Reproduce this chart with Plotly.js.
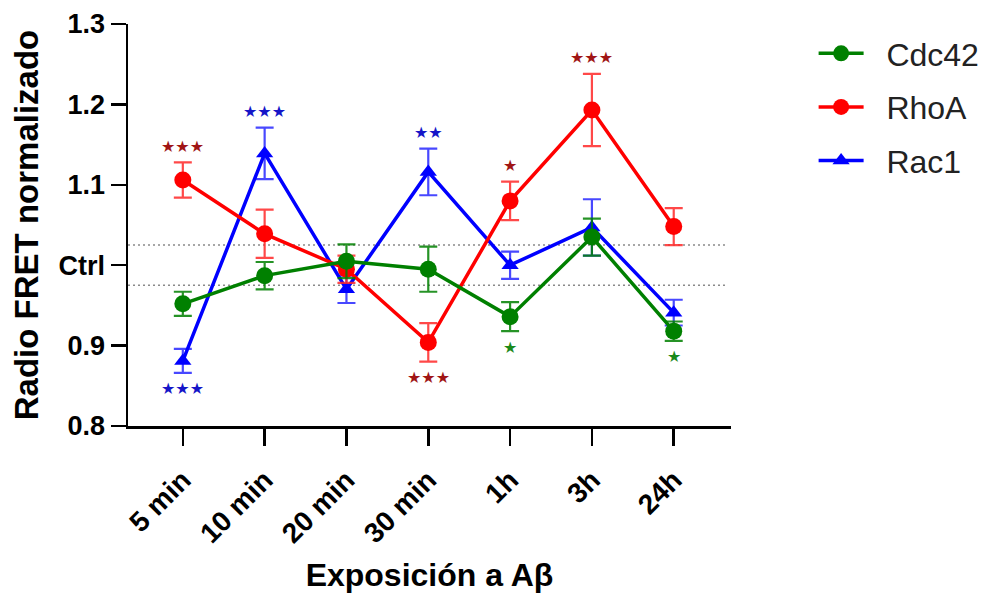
<!DOCTYPE html>
<html>
<head>
<meta charset="utf-8">
<script src="https://cdn.plot.ly/plotly-3.0.1.min.js"></script>
<style>html,body{margin:0;padding:0;background:#fff;}#chart{width:985px;height:593px;}</style>
</head>
<body>
<div id="chart"></div>
<script>
const categories = ["5 min", "10 min", "20 min", "30 min", "1h", "3h", "24h"];
const yTickVals = [0.8, 0.9, 1.0, 1.1, 1.2, 1.3];
const yTickText = ["0.8", "0.9", "Ctrl", "1.1", "1.2", "1.3"];
const ctrlBand = [0.975, 1.025];

const cdc42 = [0.952, 0.987, 1.005, 0.995, 0.936, 1.035, 0.918];
const cdc42Err = [0.015, 0.017, 0.021, 0.028, 0.018, 0.023, 0.012];
const cdc42Sig = ["", "", "", "", "*", "", "*"];

const rhoA = [1.106, 1.039, 0.995, 0.904, 1.080, 1.193, 1.048];
const rhoAErr = [0.022, 0.030, 0.017, 0.024, 0.024, 0.045, 0.023];
const rhoASig = ["***", "", "", "***", "*", "***", ""];

const rac1 = [0.881, 1.139, 0.970, 1.116, 1.000, 1.047, 0.941];
const rac1Err = [0.015, 0.032, 0.017, 0.029, 0.017, 0.035, 0.016];
const rac1Sig = ["***", "***", "", "**", "", "", ""];

const FONT = "Arial, 'Liberation Sans', sans-serif";
const PAD = "\u00a0\u00a0";

function series(name, y, err, color, errColor, symbol, size, rank) {
  return {
    type: "scatter", mode: "lines+markers", name: PAD + name,
    x: categories, y: y,
    line: {color: color, width: 3.5},
    marker: {color: color, symbol: symbol, size: size},
    error_y: {type: "data", array: err, visible: true, color: errColor, thickness: 2.2, width: 9},
    legendgroup: name, legendrank: rank
  };
}

const traces = [
  series("Rac1", rac1, rac1Err, "#0000ff", "rgba(40,40,255,0.85)", "triangle-up", 15, 3),
  series("RhoA", rhoA, rhoAErr, "#ff0000", "rgba(255,40,40,0.85)", "circle", 17, 2),
  series("Cdc42", cdc42, cdc42Err, "#008000", "rgba(0,128,0,0.85)", "circle", 17, 1)
];

const annotations = [];
function addStars(y, err, sig, color) {
  sig.forEach((s, i) => {
    if (!s) return;
    const above = y[i] > 1;
    annotations.push({
      x: categories[i], y: above ? y[i] + err[i] : y[i] - err[i],
      xref: "x", yref: "y", showarrow: false,
      text: s.split("").map(() => "★").join(""),
      yshift: above ? 16 : -16, yanchor: "middle",
      font: {family: "'DejaVu Sans', sans-serif", size: 16, color: color}
    });
  });
}
addStars(cdc42, cdc42Err, cdc42Sig, "#1a8a1a");
addStars(rhoA, rhoAErr, rhoASig, "#a01515");
addStars(rac1, rac1Err, rac1Sig, "#1515c8");

const shapes = ctrlBand.map(v => ({
  type: "line", xref: "paper", yref: "y", x0: 0, x1: 0.99, y0: v, y1: v,
  line: {color: "#8a8a8a", width: 1.5, dash: "2px,3px"}, layer: "below"
}));

const layout = {
  width: 985, height: 593,
  margin: {l: 128, r: 254, t: 24, b: 167, autoexpand: false},
  paper_bgcolor: "#fff", plot_bgcolor: "#fff",
  font: {family: FONT, color: "#000"},
  showlegend: true,
  legend: {
    x: 1.137, y: 0.995, xanchor: "left", yanchor: "top",
    font: {family: FONT, size: 32, color: "#222"},
    tracegroupgap: 9, itemwidth: 45, bgcolor: "rgba(0,0,0,0)"
  },
  xaxis: {
    type: "category", range: [-0.67, 6.70],
    showline: true, linecolor: "#000", linewidth: 2.5,
    ticks: "outside", ticklen: 17, tickwidth: 2.5, tickcolor: "#000",
    tickangle: -45, showgrid: false, zeroline: false, ticklabelstandoff: 7,
    tickfont: {family: FONT, size: 28, weight: 700, color: "#000"},
    title: {text: "Exposición a Aβ", font: {family: FONT, size: 32, weight: 700, color: "#000"}, standoff: 22}
  },
  yaxis: {
    range: [0.8, 1.3], tickvals: yTickVals, ticktext: yTickText,
    showline: true, linecolor: "#000", linewidth: 2.5,
    ticks: "outside", ticklen: 15, tickwidth: 2.5, tickcolor: "#000",
    showgrid: false, zeroline: false,
    tickfont: {family: FONT, size: 27, weight: 700, color: "#000"},
    title: {text: "Radio FRET normalizado", font: {family: FONT, size: 33, weight: 700, color: "#000"}, standoff: 10}
  },
  shapes: shapes,
  annotations: annotations
};

Plotly.newPlot("chart", traces, layout, {displayModeBar: false, staticPlot: true});
</script>
</body>
</html>
